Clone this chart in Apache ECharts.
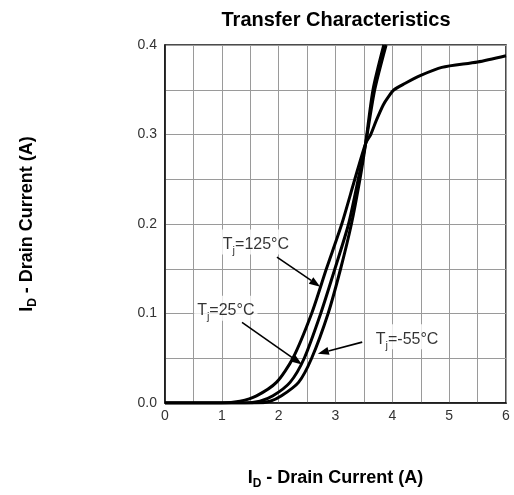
<!DOCTYPE html>
<html>
<head>
<meta charset="utf-8">
<script src="https://cdn.jsdelivr.net/npm/echarts@6/dist/echarts.min.js"></script>
<style>html,body{margin:0;padding:0;background:#fff;}#c{width:514px;height:495px;}</style>
</head>
<body>
<div id="c"></div>
<script>
// Data
const xTicks = [0, 1, 2, 3, 4, 5, 6];
const yTicks = [0.0, 0.1, 0.2, 0.3, 0.4];

const vgs125 = [0, 1.0, 1.32, 1.61, 1.96, 2.25, 2.58, 2.84, 3.11, 3.34, 3.53, 3.62, 3.72, 3.84, 3.93, 4.03, 4.22, 4.5, 4.87, 5.5, 6.0];
const id125  = [0, 0, 0.002, 0.008, 0.023, 0.05, 0.1, 0.15, 0.2, 0.25, 0.29, 0.3, 0.316, 0.333, 0.342, 0.35, 0.357, 0.366, 0.375, 0.381, 0.388];

const vgs25 = [0, 1.4, 1.67, 1.9, 2.2, 2.45, 2.74, 2.99, 3.23, 3.4, 3.53, 3.69, 3.89];
const id25  = [0, 0, 0.002, 0.008, 0.023, 0.05, 0.1, 0.15, 0.2, 0.25, 0.29, 0.35, 0.4];

const vgsM55 = [0, 1.6, 1.85, 2.05, 2.35, 2.58, 2.87, 3.09, 3.28, 3.43, 3.53, 3.66, 3.85];
const idM55  = [0, 0, 0.002, 0.008, 0.023, 0.05, 0.1, 0.15, 0.2, 0.25, 0.29, 0.35, 0.4];

// Annotations: label temperature, label position, arrow start and end (data coordinates)
const annTemps  = ['125', '25', '-55'];
const annLabelX = [1.60, 1.07, 4.26];
const annLabelY = [0.180, 0.106, 0.074];
const arrowFromX = [1.97, 1.355, 3.47];
const arrowFromY = [0.163, 0.090, 0.068];
const arrowToX   = [2.73, 2.41, 2.69];
const arrowToY   = [0.130, 0.043, 0.055];

const zip = (xs, ys) => xs.map((x, i) => [x, ys[i]]);
const FONT = 'Liberation Sans, Arial, sans-serif';

const curveStyle = { color: '#000', width: 3 };
function curve(name, xs, ys) {
  return {
    name, type: 'line', data: zip(xs, ys), smooth: 0.25,
    showSymbol: false, symbol: 'none', lineStyle: curveStyle, clip: true, z: 3
  };
}

const labelData = annTemps.map((t, i) => ({
  value: [annLabelX[i], annLabelY[i]],
  label: { formatter: '{m|T}{s|j}{m|=' + t + '°C}' }
}));

const arrowData = annTemps.map((t, i) => [arrowFromX[i], arrowFromY[i], arrowToX[i], arrowToY[i]]);

function renderArrow(params, api) {
  const p0 = api.coord([api.value(0), api.value(1)]);
  const p1 = api.coord([api.value(2), api.value(3)]);
  const dx = p1[0] - p0[0], dy = p1[1] - p0[1];
  const len = Math.sqrt(dx * dx + dy * dy);
  const ux = dx / len, uy = dy / len;
  const hl = 11, hw = 4;
  const bx = p1[0] - ux * hl, by = p1[1] - uy * hl;
  return {
    type: 'group',
    children: [
      { type: 'line', shape: { x1: p0[0], y1: p0[1], x2: bx, y2: by },
        style: { stroke: '#000', lineWidth: 1.6 } },
      { type: 'polygon', shape: { points: [
          [p1[0], p1[1]], [bx - uy * hw, by + ux * hw], [bx + uy * hw, by - ux * hw]
        ] }, style: { fill: '#000' } }
    ]
  };
}

const chart = echarts.init(document.getElementById('c'), null, { renderer: 'canvas' });
chart.setOption({
  animation: false,
  backgroundColor: '#fff',
  textStyle: { fontFamily: FONT },
  title: {
    text: 'Transfer Characteristics',
    left: 331, top: 5, textAlign: 'center',
    textStyle: { fontFamily: FONT, fontSize: 20, fontWeight: 'bold', color: '#000' }
  },
  grid: {
    left: 165, right: 8, top: 45, bottom: 91,
    show: true, borderColor: '#111', borderWidth: 1.5, backgroundColor: 'transparent'
  },
  xAxis: {
    type: 'value', min: 0, max: 6, interval: 1,
    axisLine: { show: true, lineStyle: { color: '#111', width: 1.5 } },
    axisTick: { show: false },
    axisLabel: { color: '#333', fontSize: 14, margin: 6, fontFamily: FONT,
      customValues: xTicks, formatter: v => String(v) },
    splitLine: { show: true, lineStyle: { color: '#9a9a9a', width: 1 } },
    minorTick: { show: false, splitNumber: 2 },
    minorSplitLine: { show: true, lineStyle: { color: '#9a9a9a', width: 1 } },
    name: '{m|I}{s|D}{m| - Drain Current (A)}',
    nameLocation: 'middle', nameGap: 60,
    nameTextStyle: {
      rich: {
        m: { fontFamily: FONT, fontSize: 18, fontWeight: 'bold', color: '#000', lineHeight: 24, verticalAlign: 'bottom' },
        s: { fontFamily: FONT, fontSize: 12, fontWeight: 'bold', color: '#000', lineHeight: 24, verticalAlign: 'bottom', padding: [0, 0, -3, 0] }
      }
    }
  },
  yAxis: {
    type: 'value', min: 0, max: 0.4, interval: 0.1,
    axisLine: { show: true, lineStyle: { color: '#111', width: 1.5 } },
    axisTick: { show: false },
    axisLabel: { color: '#333', fontSize: 14, margin: 8, fontFamily: FONT,
      formatter: v => v.toFixed(1) },
    splitLine: { show: true, lineStyle: { color: '#9a9a9a', width: 1 } },
    minorTick: { show: false, splitNumber: 2 },
    minorSplitLine: { show: true, lineStyle: { color: '#9a9a9a', width: 1 } },
    name: '{m|I}{s|D}{m| - Drain Current (A)}',
    nameLocation: 'middle', nameGap: 129, nameRotate: 90,
    nameTextStyle: {
      rich: {
        m: { fontFamily: FONT, fontSize: 18, fontWeight: 'bold', color: '#000', lineHeight: 24, verticalAlign: 'bottom' },
        s: { fontFamily: FONT, fontSize: 12, fontWeight: 'bold', color: '#000', lineHeight: 24, verticalAlign: 'bottom', padding: [0, 0, -3, 0] }
      }
    }
  },
  series: [
    curve('Tj=125°C', vgs125, id125),
    curve('Tj=25°C', vgs25, id25),
    curve('Tj=-55°C', vgsM55, idM55),
    {
      name: 'arrows', type: 'custom', renderItem: renderArrow, data: arrowData, z: 4,
      encode: { x: [0, 2], y: [1, 3] }, silent: true
    },
    {
      name: 'labels', type: 'scatter', data: labelData, symbolSize: 0, z: 5,
      label: {
        show: true, position: 'inside', backgroundColor: '#fff', padding: [2, 3, 2, 3],
        rich: {
          m: { fontFamily: FONT, fontSize: 16, color: '#000', lineHeight: 21, verticalAlign: 'bottom' },
          s: { fontFamily: FONT, fontSize: 11, color: '#000', lineHeight: 21, verticalAlign: 'bottom', padding: [0, 0, -4, 0] }
        }
      }
    }
  ]
});
</script>
</body>
</html>
